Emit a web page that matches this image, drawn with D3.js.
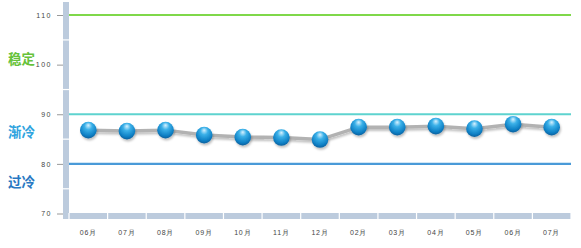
<!DOCTYPE html>
<html><head><meta charset="utf-8">
<script src="https://cdn.jsdelivr.net/npm/d3@7"></script>
<style>body{margin:0;background:#fff}svg{display:block}</style>
</head><body>
<script>
const categories = ["06月","07月","08月","09月","10月","11月","12月","02月","03月","04月","05月","06月","07月"];
const values = [86.8,86.6,86.8,85.8,85.4,85.3,84.9,87.4,87.4,87.6,87.1,88.0,87.4];
const yTicks = [70,80,90,100,110];
const refLines = [{v:110,c:"#7fd84a"},{v:90,c:"#5ed3cf"},{v:80,c:"#4a9ad8"}];
const zoneLabels = [{t:"稳定",v:100.1,c:"#66c23a"},{t:"渐冷",v:85.5,c:"#2ea3de"},{t:"过冷",v:75.4,c:"#2878c2"}];

const W=581,H=248;
const svg=d3.select("body").append("svg").attr("width",W).attr("height",H);
const x=d3.scaleBand().domain(d3.range(categories.length)).range([69,571]);
const y=d3.scaleLinear().domain([70,110]).range([213.5,15]);

const defs=svg.append("defs");
const g=defs.append("radialGradient").attr("id","ball").attr("cx","50%").attr("cy","35%").attr("r","65%").attr("fx","50%").attr("fy","20%");
g.append("stop").attr("offset","0%").attr("stop-color","#d8f2ff");
g.append("stop").attr("offset","35%").attr("stop-color","#3ab0e8");
g.append("stop").attr("offset","80%").attr("stop-color","#0e7fc4");
g.append("stop").attr("offset","100%").attr("stop-color","#0a5f9c");
const f=defs.append("filter").attr("id","sh").attr("x","-50%").attr("y","-50%").attr("width","200%").attr("height","200%");
f.append("feDropShadow").attr("dx",1).attr("dy",2).attr("stdDeviation",1.2).attr("flood-color","#000").attr("flood-opacity",0.25);

// left axis bar
svg.append("rect").attr("x",63).attr("y",2).attr("width",6).attr("height",217).attr("fill","#bccbdd");
[75,85,95,105].forEach(v=>svg.append("rect").attr("x",63).attr("y",y(v)-0.5).attr("width",6).attr("height",1.2).attr("fill","#fff"));
// bottom axis bar
svg.append("rect").attr("x",63).attr("y",213).attr("width",508).attr("height",6).attr("fill","#bccbdd");
d3.range(categories.length+1).forEach(i=>{
  const xx = i<categories.length? x(i): x.range()[1];
  svg.append("rect").attr("x",xx-0.6).attr("y",213).attr("width",1.2).attr("height",6).attr("fill","#fff");
});

// y axis ticks & labels
const ya=svg.append("g").attr("transform","translate(63,0)").call(d3.axisLeft(y).tickValues(yTicks).tickSize(6).tickPadding(5).tickFormat(d=>d));
ya.select(".domain").remove();
ya.selectAll("line").attr("stroke","#999");
ya.selectAll("text").attr("font-family","Arial, 'Liberation Sans', sans-serif").attr("font-size",7).attr("fill","#444").attr("letter-spacing","1.5px");

// x axis labels
const xa=svg.append("g").attr("transform","translate(0,219)").call(d3.axisBottom(x).tickFormat(i=>categories[i]).tickSize(0).tickPadding(11));
xa.select(".domain").remove();
xa.selectAll("text").attr("font-family","Arial, 'Liberation Sans', sans-serif").attr("font-size",7).attr("fill","#444").attr("letter-spacing","0.8px");

// reference lines
refLines.forEach(r=>svg.append("line").attr("x1",69).attr("x2",571).attr("y1",y(r.v)).attr("y2",y(r.v)).attr("stroke",r.c).attr("stroke-width",2.2));

// zone labels
zoneLabels.forEach(z=>svg.append("text").attr("x",8).attr("y",y(z.v)).text(z.t).attr("fill",z.c).attr("font-size",13.5).attr("font-weight","bold").attr("font-family","'Noto Sans CJK SC', sans-serif"));

// line
const line=d3.line().x((d,i)=>x(i)+x.bandwidth()/2).y(d=>y(d));
svg.append("path").datum(values).attr("d",line).attr("fill","none").attr("stroke","#b2b2b2").attr("stroke-width",3.5).attr("filter","url(#sh)");
svg.selectAll("circle.pt").data(values).enter().append("circle").attr("class","pt")
  .attr("cx",(d,i)=>x(i)+x.bandwidth()/2).attr("cy",d=>y(d)).attr("r",8.3).attr("fill","url(#ball)").attr("filter","url(#sh)");
</script>
</body></html>
